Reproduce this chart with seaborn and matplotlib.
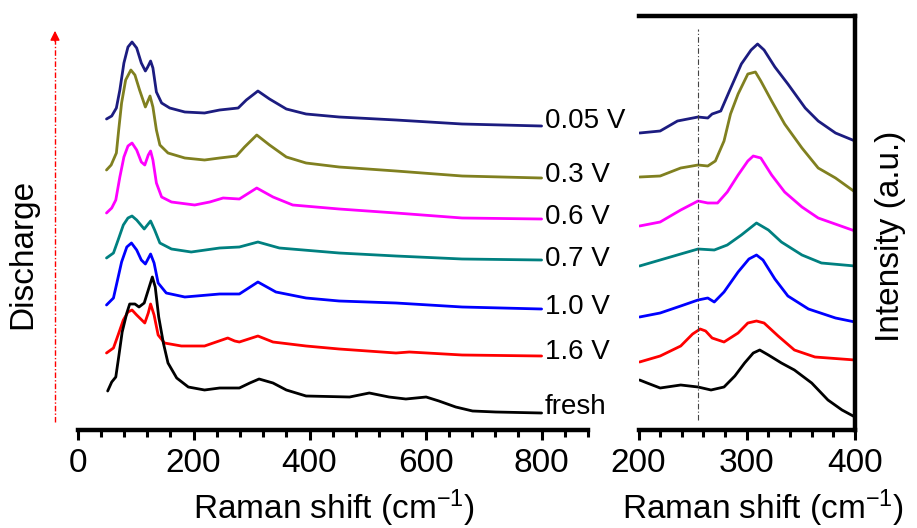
import matplotlib
matplotlib.use("Agg")
import matplotlib.pyplot as plt
from matplotlib.lines import Line2D
from matplotlib.patches import FancyArrowPatch
import seaborn as sns

# left panel: full spectra, y values are offset intensities
labels = ["0.05 V", "0.3 V", "0.6 V", "0.7 V", "1.0 V", "1.6 V", "fresh"]
colors = ["#1c1c80", "#808020", "#ff00ff", "#008080", "#0000ff", "#ff0000", "#000000"]
label_y = [309, 255, 213, 171, 123, 78, 23]

x_005 = [50, 59, 67, 73, 80, 87, 94, 102, 110, 117, 121, 126, 130, 136, 145, 159, 185, 219, 245, 277, 291, 311,
         331, 360, 394, 451, 549, 663, 800]
y_005 = [311, 314, 322, 340, 367, 383, 388, 382, 367, 359, 363, 369, 362, 338, 327, 322, 318, 317, 320, 322, 330, 339,
         331, 321, 316, 313, 310, 306, 304]

x_03 = [50, 58, 67, 71, 76, 83, 92, 99, 107, 117, 125, 130, 136, 142, 156, 185, 219, 245, 274, 288, 309, 331, 360,
        394, 451, 549, 663, 800]
y_03 = [260, 265, 277, 300, 327, 350, 360, 355, 340, 323, 334, 323, 300, 285, 277, 272, 270, 272, 274, 283, 295, 285, 273,
        267, 263, 259, 254, 252]

x_06 = [50, 59, 66, 73, 80, 87, 94, 102, 110, 116, 122, 126, 130, 136, 145, 162, 202, 228, 251, 279, 309, 337, 371,
        451, 549, 663, 800]
y_06 = [217, 222, 230, 253, 273, 284, 287, 280, 268, 265, 275, 279, 270, 247, 233, 228, 225, 228, 232, 231, 242, 233, 225,
        221, 217, 212, 211]

x_07 = [50, 62, 70, 79, 87, 94, 102, 115, 126, 133, 142, 162, 196, 245, 279, 311, 348, 451, 549, 663, 800]
y_07 = [172, 177, 190, 205, 212, 214, 210, 201, 209, 200, 187, 181, 178, 182, 183, 188, 182, 177, 174, 171, 170]

x_10 = [50, 62, 69, 76, 85, 93, 102, 110, 117, 126, 132, 139, 153, 185, 245, 279, 311, 342, 394, 451, 549, 663, 800]
y_10 = [125, 132, 150, 168, 183, 187, 180, 170, 166, 176, 167, 147, 137, 133, 136, 136, 148, 138, 132, 129, 127, 123, 121]

x_16 = [50, 62, 70, 79, 87, 94, 102, 116, 122, 126, 132, 139, 150, 179, 219, 239, 259, 271, 279, 311, 337, 394, 451,
        549, 572, 663, 800]
y_16 = [77, 82, 95, 110, 118, 120, 115, 107, 117, 126, 115, 95, 87, 84, 84, 88, 92, 89, 88, 94, 88, 84, 81,
        77, 78, 75, 74]

x_fr = [52, 59, 66, 71, 77, 85, 90, 99, 106, 115, 122, 129, 134, 140, 148, 156, 171, 191, 219, 245, 279, 297, 313,
        337, 360, 394, 469, 503, 537, 566, 601, 623, 652, 681, 721, 800]
y_fr = [39, 48, 53, 73, 98, 117, 126, 126, 123, 127, 140, 153, 143, 113, 87, 67, 52, 43, 40, 42, 42, 47, 51,
        47, 40, 34, 33, 37, 33, 31, 33, 29, 23, 19, 18, 17]

# right panel: 200-400 cm-1 zoom
zx_005 = [201, 220, 236, 255, 264, 268, 276, 284, 295, 304, 310, 316, 326, 338, 354, 366, 382, 400]
zy_005 = [297, 299, 309, 313, 312, 316, 319, 339, 366, 380, 386, 380, 363, 346, 322, 309, 297, 289]

zx_03 = [201, 220, 239, 255, 264, 271, 279, 285, 292, 301, 308, 313, 323, 335, 351, 366, 382, 400]
zy_03 = [253, 254, 262, 265, 264, 269, 289, 316, 336, 356, 358, 349, 329, 306, 282, 262, 252, 238]

zx_06 = [201, 220, 239, 255, 264, 273, 282, 292, 301, 306, 313, 323, 335, 351, 366, 400]
zy_06 = [204, 208, 220, 229, 227, 227, 238, 255, 269, 274, 272, 255, 238, 223, 212, 199]

zx_07 = [201, 220, 239, 255, 270, 282, 295, 309, 320, 332, 351, 369, 400]
zy_07 = [164, 170, 176, 181, 180, 185, 195, 207, 200, 188, 175, 167, 164]

zx_10 = [201, 220, 239, 255, 264, 270, 279, 292, 302, 309, 315, 326, 338, 357, 382, 400]
zy_10 = [113, 117, 124, 130, 132, 128, 138, 158, 171, 175, 170, 151, 134, 121, 112, 108]

zx_16 = [201, 220, 239, 250, 257, 262, 268, 279, 292, 301, 309, 316, 329, 344, 363, 400]
zy_16 = [68, 74, 84, 96, 101, 99, 92, 88, 97, 107, 109, 107, 94, 80, 73, 70]

zx_fr = [201, 208, 220, 239, 255, 267, 279, 289, 298, 306, 312, 320, 332, 344, 360, 375, 388, 400]
zy_fr = [50, 47, 42, 45, 43, 40, 43, 54, 67, 77, 80, 75, 67, 60, 47, 30, 20, 13]

left_x = [x_005, x_03, x_06, x_07, x_10, x_16, x_fr]
left_y = [y_005, y_03, y_06, y_07, y_10, y_16, y_fr]
right_x = [zx_005, zx_03, zx_06, zx_07, zx_10, zx_16, zx_fr]
right_y = [zy_005, zy_03, zy_06, zy_07, zy_10, zy_16, zy_fr]

ref_x = 255
ref_span = (10, 401)

sns.set_theme(style="white")
plt.rcParams["font.family"] = ["Liberation Sans", "DejaVu Sans"]
plt.rcParams["mathtext.default"] = "regular"
plt.rcParams["text.color"] = "black"
plt.rcParams["xtick.color"] = "black"
plt.rcParams["xtick.labelcolor"] = "black"

W, H = 917, 528
fig = plt.figure(figsize=(W / 100, H / 100), dpi=100)
ax1 = fig.add_axes([77.5 / W, 1 - 430 / H, (588 - 77.5) / W, 414 / H])
ax2 = fig.add_axes([638.5 / W, 1 - 430 / H, (855 - 638.5) / W, 414 / H])

for xs, ys, c in zip(left_x, left_y, colors):
    sns.lineplot(x=xs, y=ys, ax=ax1, color=c, lw=2.0, sort=False, errorbar=None)
for xs, ys, c in zip(right_x, right_y, colors):
    sns.lineplot(x=xs, y=ys, ax=ax2, color=c, lw=2.0, sort=False, errorbar=None)

for lab, ly in zip(labels, label_y):
    ax1.text(806, ly, lab, fontsize=20, ha="left", va="center", color="black")

ax2.vlines(ref_x, *ref_span, color="#444444", lw=0.8, linestyles=(0, (5, 2, 1, 2)))

ax1.set_xlim(0, 880)
ax2.set_xlim(200, 400)
for ax in (ax1, ax2):
    ax.set_ylim(0, 414)
    ax.set_yticks([])
    ax.set_xlabel("")
    ax.set_ylabel("")
    ax.spines["left"].set_visible(False)
    for s in ax.spines.values():
        s.set_linewidth(3.2)
        s.set_color("black")
    ax.tick_params(axis="x", which="both", direction="out", bottom=True, top=False,
                   width=2.2, labelsize=24, pad=6, colors="black")
    ax.tick_params(axis="x", which="major", length=7)
    ax.tick_params(axis="x", which="minor", length=5)
ax1.spines["top"].set_visible(False)
ax1.spines["right"].set_visible(False)
ax1.xaxis.set_major_locator(plt.MultipleLocator(200))
ax1.xaxis.set_minor_locator(plt.MultipleLocator(40))
ax2.xaxis.set_major_locator(plt.MultipleLocator(100))
ax2.xaxis.set_minor_locator(plt.MultipleLocator(20))

xlab = "Raman shift (cm$^{-1}$)"
fig.text(334 / W, 1 - 519 / H, xlab, fontsize=24, ha="center", va="baseline")
fig.text(763 / W, 1 - 519 / H, xlab, fontsize=24, ha="center", va="baseline")
fig.text(891 / W, 1 - 236 / H, "Intensity (a.u.)", fontsize=24, rotation=90, ha="center", va="center")
fig.text(23 / W, 1 - 254 / H, "Discharge", fontsize=24, rotation=90, ha="center", va="center")

# red dash-dot arrow for the discharge direction
fig.add_artist(Line2D([55 / W, 55 / W], [1 - 422 / H, 1 - 36 / H], transform=fig.transFigure,
                      color="red", lw=1.0, linestyle=(0, (4, 1.5, 1, 1.5))))
fig.add_artist(FancyArrowPatch((55 / W, 1 - 44 / H), (55 / W, 1 - 28 / H), transform=fig.transFigure,
                               arrowstyle="-|>", mutation_scale=14, color="red", lw=1.0))

fig.savefig("out.png", dpi=100)
